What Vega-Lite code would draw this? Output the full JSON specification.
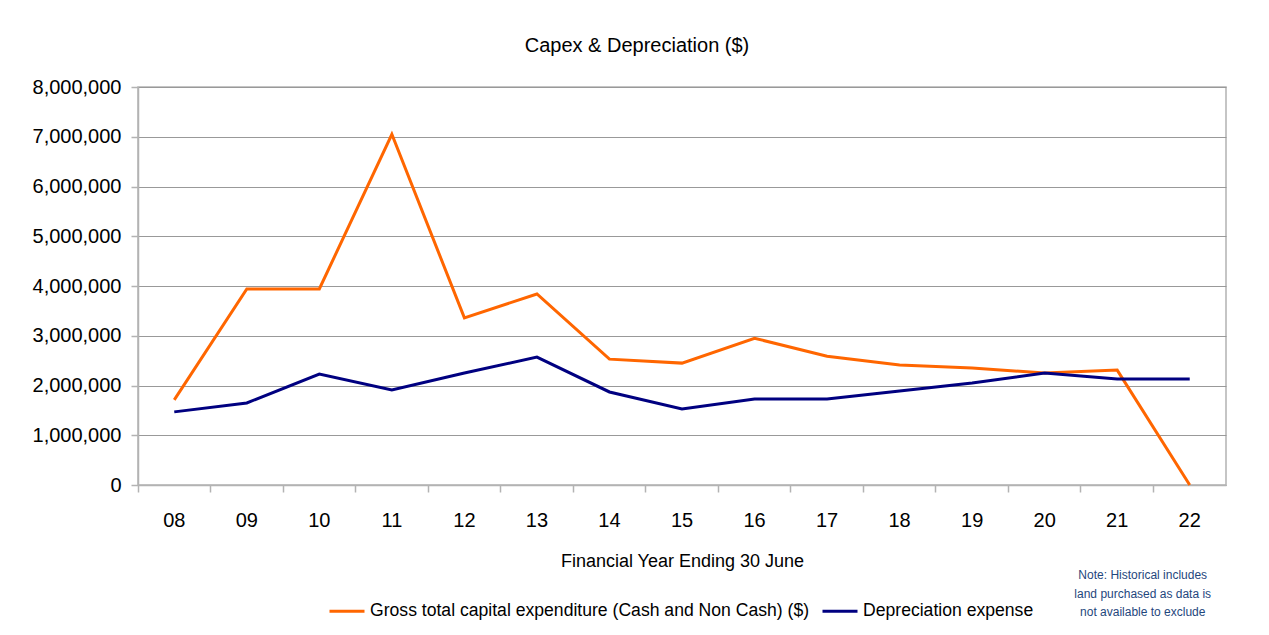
{
  "$schema": "https://vega.github.io/schema/vega-lite/v6.json",
  "width": 1088,
  "height": 398,
  "autosize": "none",
  "padding": {"left": 138, "top": 87, "right": 43, "bottom": 150},
  "background": "white",
  "config": {
    "font": "Liberation Sans",
    "view": {"stroke": "#b3b3b3", "strokeWidth": 1.5}
  },
  "title": {
    "text": "Capex & Depreciation ($)",
    "fontSize": 20,
    "fontWeight": "normal",
    "color": "black",
    "anchor": "middle",
    "dx": -45,
    "offset": 21
  },
  "datasets": {
    "series": [
      {"year": "08", "series": "Gross total capital expenditure (Cash and Non Cash) ($)", "value": 1710000},
      {"year": "09", "series": "Gross total capital expenditure (Cash and Non Cash) ($)", "value": 3940000},
      {"year": "10", "series": "Gross total capital expenditure (Cash and Non Cash) ($)", "value": 3940000},
      {"year": "11", "series": "Gross total capital expenditure (Cash and Non Cash) ($)", "value": 7050000},
      {"year": "12", "series": "Gross total capital expenditure (Cash and Non Cash) ($)", "value": 3360000},
      {"year": "13", "series": "Gross total capital expenditure (Cash and Non Cash) ($)", "value": 3840000},
      {"year": "14", "series": "Gross total capital expenditure (Cash and Non Cash) ($)", "value": 2530000},
      {"year": "15", "series": "Gross total capital expenditure (Cash and Non Cash) ($)", "value": 2450000},
      {"year": "16", "series": "Gross total capital expenditure (Cash and Non Cash) ($)", "value": 2950000},
      {"year": "17", "series": "Gross total capital expenditure (Cash and Non Cash) ($)", "value": 2590000},
      {"year": "18", "series": "Gross total capital expenditure (Cash and Non Cash) ($)", "value": 2410000},
      {"year": "19", "series": "Gross total capital expenditure (Cash and Non Cash) ($)", "value": 2350000},
      {"year": "20", "series": "Gross total capital expenditure (Cash and Non Cash) ($)", "value": 2250000},
      {"year": "21", "series": "Gross total capital expenditure (Cash and Non Cash) ($)", "value": 2310000},
      {"year": "22", "series": "Gross total capital expenditure (Cash and Non Cash) ($)", "value": 0},
      {"year": "08", "series": "Depreciation expense", "value": 1470000},
      {"year": "09", "series": "Depreciation expense", "value": 1650000},
      {"year": "10", "series": "Depreciation expense", "value": 2230000},
      {"year": "11", "series": "Depreciation expense", "value": 1910000},
      {"year": "12", "series": "Depreciation expense", "value": 2250000},
      {"year": "13", "series": "Depreciation expense", "value": 2570000},
      {"year": "14", "series": "Depreciation expense", "value": 1870000},
      {"year": "15", "series": "Depreciation expense", "value": 1530000},
      {"year": "16", "series": "Depreciation expense", "value": 1730000},
      {"year": "17", "series": "Depreciation expense", "value": 1730000},
      {"year": "18", "series": "Depreciation expense", "value": 1890000},
      {"year": "19", "series": "Depreciation expense", "value": 2050000},
      {"year": "20", "series": "Depreciation expense", "value": 2250000},
      {"year": "21", "series": "Depreciation expense", "value": 2130000},
      {"year": "22", "series": "Depreciation expense", "value": 2130000}
    ],
    "note": [
      {"note": "Note: Historical includes"}
    ]
  },
  "data": {"name": "series"},
  "resolve": {"axis": {"x": "independent"}},
  "layer": [
    {
      "mark": {"type": "line", "opacity": 0},
      "encoding": {
        "x": {
          "field": "year",
          "type": "nominal",
          "sort": null,
          "scale": {"type": "band", "paddingInner": 0, "paddingOuter": 0},
          "axis": {
            "orient": "bottom",
            "bandPosition": 0,
            "labels": false,
            "domain": false,
            "ticks": true,
            "tickSize": 7,
            "tickColor": "#b3b3b3",
            "tickWidth": 1.5,
            "title": null,
            "grid": false
          }
        },
        "y": {
          "field": "value",
          "type": "quantitative",
          "scale": {"domain": [0, 8000000], "nice": false, "zero": true},
          "axis": {
            "values": [0, 1000000, 2000000, 3000000, 4000000, 5000000, 6000000, 7000000, 8000000],
            "format": ",d",
            "labelFontSize": 20,
            "labelColor": "black",
            "labelPadding": 10,
            "tickSize": 7,
            "tickColor": "#b3b3b3",
            "tickWidth": 1.5,
            "domainColor": "#b3b3b3",
            "domainWidth": 1.5,
            "gridColor": "#999999",
            "gridWidth": 1,
            "title": null
          }
        },
        "detail": {"field": "series"}
      }
    },
    {
      "mark": {"type": "line", "strokeWidth": 3},
      "encoding": {
        "x": {
          "field": "year",
          "type": "nominal",
          "sort": null,
          "axis": {
            "orient": "bottom",
            "ticks": false,
            "tickSize": 0,
            "domain": true,
            "domainColor": "#b3b3b3",
            "domainWidth": 1.5,
            "labelAngle": 0,
            "labelFontSize": 20,
            "labelColor": "black",
            "labelPadding": 25,
            "title": "Financial Year Ending 30 June",
            "titleFontSize": 18,
            "titleFontWeight": "normal",
            "titleColor": "black",
            "titlePadding": 22,
            "grid": false
          }
        },
        "y": {
          "field": "value",
          "type": "quantitative",
          "scale": {"domain": [0, 8000000], "nice": false, "zero": true},
          "axis": {
            "values": [0, 1000000, 2000000, 3000000, 4000000, 5000000, 6000000, 7000000, 8000000],
            "format": ",d",
            "labelFontSize": 20,
            "labelColor": "black",
            "labelPadding": 10,
            "tickSize": 7,
            "tickColor": "#b3b3b3",
            "tickWidth": 1.5,
            "domainColor": "#b3b3b3",
            "domainWidth": 1.5,
            "gridColor": "#999999",
            "gridWidth": 1,
            "title": null
          }
        },
        "color": {
          "field": "series",
          "type": "nominal",
          "scale": {
            "domain": ["Gross total capital expenditure (Cash and Non Cash) ($)", "Depreciation expense"],
            "range": ["#ff6600", "#000080"]
          },
          "legend": {
            "orient": "none",
            "legendX": 190,
            "legendY": 505,
            "direction": "horizontal",
            "title": null,
            "symbolType": "stroke",
            "symbolSize": 1225,
            "symbolStrokeWidth": 3,
            "labelFontSize": 17.6,
            "labelColor": "black",
            "labelOffset": 4,
            "columnPadding": 6,
            "labelLimit": 600
          }
        }
      }
    },
    {
      "data": {"name": "note"},
      "mark": {
        "type": "text",
        "text": ["Note: Historical includes", "land purchased as data is", "not available to exclude"],
        "fontSize": 12,
        "color": "#1f477d",
        "align": "center",
        "baseline": "top",
        "lineHeight": 18.5,
        "dx": -47
      },
      "encoding": {
        "x": {"datum": "22", "type": "nominal", "axis": null},
        "y": {
          "datum": -1710000,
          "type": "quantitative",
          "axis": {
            "values": [0, 1000000, 2000000, 3000000, 4000000, 5000000, 6000000, 7000000, 8000000],
            "format": ",d",
            "labelFontSize": 20,
            "labelColor": "black",
            "labelPadding": 10,
            "tickSize": 7,
            "tickColor": "#b3b3b3",
            "tickWidth": 1.5,
            "domainColor": "#b3b3b3",
            "domainWidth": 1.5,
            "gridColor": "#999999",
            "gridWidth": 1,
            "title": null
          }
        }
      }
    }
  ]
}
